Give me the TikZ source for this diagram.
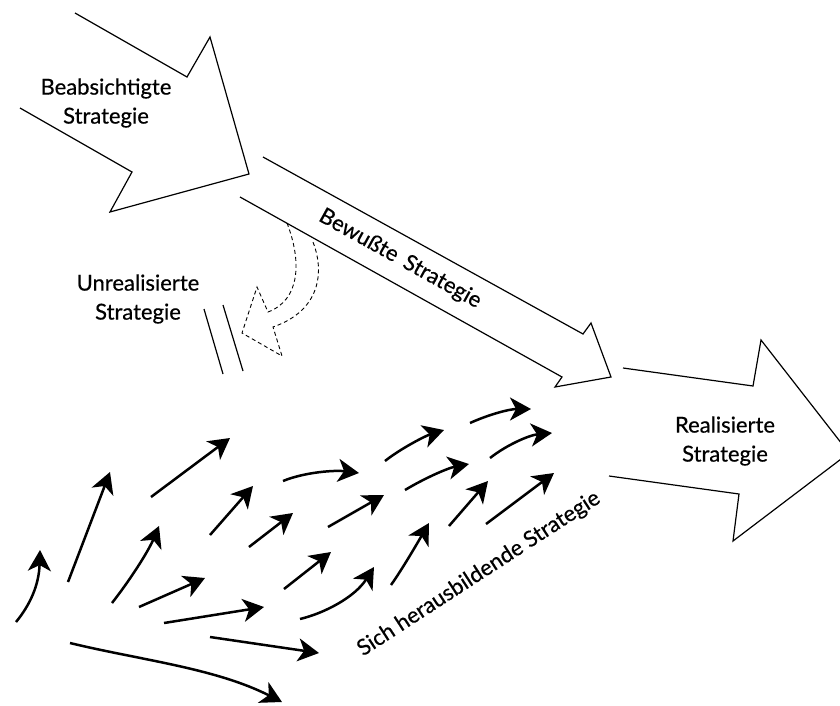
\documentclass[tikz,border=0pt]{standalone}
\usepackage{fontspec}
\setmainfont{Lato}
\newfontface\lblfont[FakeBold=0.5]{Lato}
\usetikzlibrary{arrows.meta}
\begin{document}
\begin{tikzpicture}[x=1pt,y=-1pt,
  bigarrow/.style={line width=1.2pt, line join=miter},
  small/.style={line width=2.5pt, -{Stealth[length=21pt,width=23pt,inset=6pt]}},
  lbl/.style={font=\lblfont\fontsize{22}{29}\selectfont, align=center, inner sep=0pt},
  dashline/.style={line width=0.9pt, dash pattern=on 4pt off 3pt}]
\useasboundingbox (0,0) rectangle (840,706);
\begin{scope}
\clip (0,0) rectangle (840,706);
% big arrows
\draw[bigarrow] (75,13) -- (187,77) -- (210,37) -- (249,174) -- (110,212) -- (132,172) -- (20,108);
\draw[bigarrow] (263,157) -- (583,334) -- (591,323) -- (611,377) -- (555,387) -- (562,377) -- (240,197);
\draw[bigarrow] (623,368) -- (753,386) -- (761,340) -- (849,453) -- (733,541) -- (739,494) -- (609,476);
\end{scope}
% dashed bent arrow
\draw[dashline] (287,223) .. controls (302,262) and (300,300) .. (268,312) -- (257,287) -- (242,333) -- (282,356) -- (273,327) .. controls (322,310) and (324,270) .. (313,242);
% double bar
\draw[line width=1.2pt] (204,309) -- (223,374);
\draw[line width=1.2pt] (223,305) -- (243,371);
% labels
\node[lbl] (beab) at (106,103) {Beabsichtigte\\Strategie};
\node[lbl] (unreal) at (138,299) {Unrealisierte\\Strategie};
\node[lbl] (real) at (725,441) {Realisierte\\Strategie};
\node[lbl, rotate=-29] (bew) at (400,259) {Bewußte\hspace{0.15em} Strategie};
\node[lbl, rotate=33] (sich) at (479,574) {Sich herausbildende Strategie};
% small emergent arrows
\draw[small] (16,622) .. controls (30,605) and (39,585) .. (40,550);
\draw[small] (68,582) -- (110,472);
\draw[small] (112,603) .. controls (130,580) and (148,552) .. (159,526);
\draw[small] (151,497) -- (230,438);
\draw[small] (139,607) -- (205,578);
\draw[small] (164,623) -- (264,607);
\draw[small] (210,637) -- (319,653);
\draw[small] (70,643) .. controls (140,660) and (215,668) .. (282,702);
\draw[small] (210,535) -- (253,486);
\draw[small] (249,547) -- (293,513);
\draw[small] (283,481) .. controls (305,472) and (335,470) .. (359,473);
\draw[small] (284,589) -- (331,552);
\draw[small] (300,619) .. controls (325,613) and (355,597) .. (374,567);
\draw[small] (328,527) -- (384,495);
\draw[small] (385,461) .. controls (400,449) and (425,436) .. (444,430);
\draw[small] (405,490) .. controls (425,478) and (448,468) .. (469,464);
\draw[small] (391,585) .. controls (403,568) and (418,542) .. (429,523);
\draw[small] (449,526) -- (488,481);
\draw[small] (470,423) .. controls (490,414) and (510,409) .. (531,409);
\draw[small] (490,458) .. controls (508,444) and (530,435) .. (552,433);
\draw[small] (486,524) -- (554,473);
\end{tikzpicture}
\end{document}
